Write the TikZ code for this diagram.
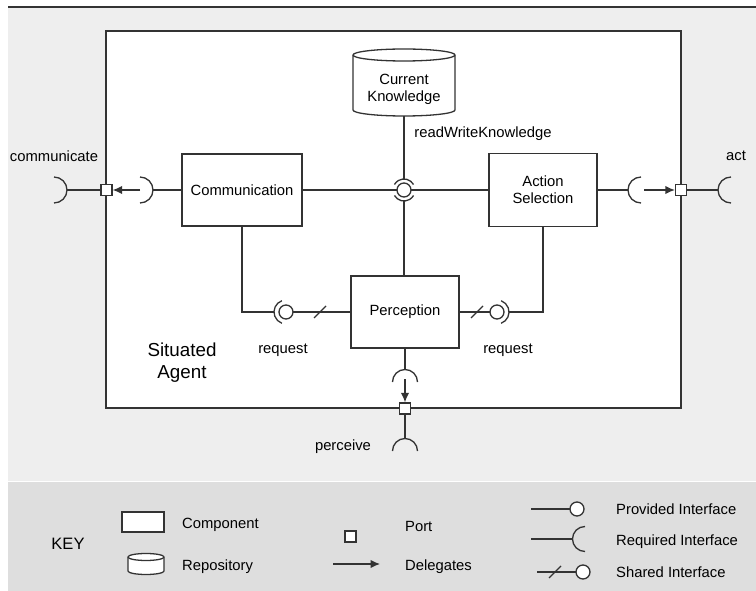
\documentclass[tikz,border=0pt]{standalone}
\usepackage{fontspec}
\setmainfont{Liberation Sans}
\usetikzlibrary{arrows.meta,calc}
\definecolor{bgtop}{HTML}{EEEEEE}
\definecolor{bgkey}{HTML}{DEDEDE}
\definecolor{ln}{HTML}{333333}
\tikzset{
 ln/.style={draw=ln, line width=1.3pt},
 txt/.style={font=\fontsize{14.8}{17}\selectfont, inner sep=0pt, text height=10.5pt, text depth=0pt},
 mtxt/.style={font=\fontsize{14.8}{17}\selectfont, inner sep=0pt, align=center},
 comp/.style={draw=ln, line width=1.3pt, fill=white, inner sep=0pt, align=center, font=\fontsize{14.8}{17}\selectfont},
 port/.style={draw=ln, line width=1.3pt, fill=white, minimum size=11pt, inner sep=0pt},
 deleg/.style={draw=ln, line width=1.3pt, -{Latex[length=9.5pt,width=8.5pt]}},
}
\begin{document}
\begin{tikzpicture}[x=1pt,y=-1pt]
\useasboundingbox (0,0) rectangle (756,591);
% backgrounds
\fill[bgtop] (8,7) rectangle (756,480.5);
\fill[bgkey] (8,482) rectangle (756,591);
\draw[draw=ln, line width=1.6pt] (8,7) -- (756,7);
\node[draw=ln, line width=1.6pt, fill=white, minimum width=575pt, minimum height=377pt, inner sep=0pt] (agent) at (393.5,219.5) {};

% repository
\draw[ln, fill=white] (353,55) -- (353,110) arc[start angle=180, end angle=360, x radius=51pt, y radius=6pt] -- (455,55) arc[start angle=0, end angle=180, x radius=51pt, y radius=6pt] -- cycle;
\draw[ln] (353,55) arc[start angle=180, end angle=360, x radius=51pt, y radius=6pt];
\node[mtxt] (ck) at (404,89.5) {Current\\Knowledge};
\coordinate (ckbot) at (404,116);

% components
\node[comp, minimum width=120pt, minimum height=72pt] (comm) at (242,190) {Communication};
\node[comp, minimum width=108pt, minimum height=73pt] (acts) at (543,190) {Action\\Selection};
\node[comp, minimum width=108pt, minimum height=72pt] (perc) at (405,312) {Perception};

% hub (readWriteKnowledge)
\coordinate (hub) at (404,190);
\draw[ln] (hub) circle[radius=7pt];
\draw[ln] ([shift={(30:11pt)}]hub) arc[start angle=30, end angle=150, radius=11pt];
\draw[ln] ([shift={(210:11pt)}]hub) arc[start angle=210, end angle=330, radius=11pt];
\draw[ln] (ckbot) -- ([yshift=11pt]hub);
\draw[ln] ([yshift=-11pt]hub) -- (hub |- perc.north);
\draw[ln] (comm.east) -- ([xshift=-7pt]hub);
\draw[ln] ([xshift=7pt]hub) -- (acts.west);
\node[txt] (rwk) at (483,132) {readWriteKnowledge};

% left port
\node[port] (pl) at (106.5,190) {};
\coordinate (sockLo) at (54,190);
\coordinate (sockLi) at (140,190);
\draw[ln] ([shift={(-90:13pt)}]sockLo) arc[start angle=-90, end angle=90, radius=13pt];
\draw[ln] ([shift={(-90:13pt)}]sockLi) arc[start angle=-90, end angle=90, radius=13pt];
\draw[ln] ([xshift=13pt]sockLo) -- (pl.west);
\draw[ln] (comm.west) -- ([xshift=13pt]sockLi);
\draw[deleg] (sockLi) -- (pl.east);
\node[txt] (lcomm) at (54,156) {communicate};

% right port
\node[port] (pr) at (681,190) {};
\coordinate (sockRi) at (641,190);
\coordinate (sockRo) at (731,190);
\draw[ln] ([shift={(90:13pt)}]sockRi) arc[start angle=90, end angle=270, radius=13pt];
\draw[ln] ([shift={(90:13pt)}]sockRo) arc[start angle=90, end angle=270, radius=13pt];
\draw[ln] (acts.east) -- ([xshift=-13pt]sockRi);
\draw[deleg] ([xshift=3pt]sockRi) -- (pr.west);
\draw[ln] (pr.east) -- ([xshift=-13pt]sockRo);
\node[txt] (lact) at (736,155) {act};

% bottom port
\node[port] (pb) at (405,408.5) {};
\coordinate (sockBi) at (405,382);
\coordinate (sockBo) at (405,451);
\draw[ln] ([shift={(0:12.5pt)}]sockBi) arc[start angle=0, end angle=180, radius=12.5pt];
\draw[ln] ([shift={(0:12.5pt)}]sockBo) arc[start angle=0, end angle=180, radius=12.5pt];
\draw[ln] (perc.south) -- ([yshift=12.5pt]sockBi);
\draw[deleg] ([yshift=3pt]sockBi) -- (pb.north);
\draw[ln] (pb.south) -- ([yshift=12.5pt]sockBo);
\node[txt] (lperc) at (343,445) {perceive};

% request interfaces
\coordinate (reqL) at (286,312);
\draw[ln] (reqL) circle[radius=7pt];
\draw[ln] ([shift={(110:12pt)}]reqL) arc[start angle=110, end angle=250, radius=12pt];
\draw[ln] (comm.south) -- (comm.south |- reqL) -- ([xshift=-12pt]reqL);
\draw[ln] ([xshift=7pt]reqL) -- (perc.west);
\draw[ln] ($(reqL)+(28,6)$) -- ($(reqL)+(40,-6)$);
\node[txt] (lreqL) at (283,348) {request};

\coordinate (reqR) at (497,312);
\draw[ln] (reqR) circle[radius=7pt];
\draw[ln] ([shift={(-70:12pt)}]reqR) arc[start angle=-70, end angle=70, radius=12pt];
\draw[ln] (perc.east) -- ([xshift=-7pt]reqR);
\draw[ln] ([xshift=12pt]reqR) -- (acts.south |- reqR) -- (acts.south);
\draw[ln] ($(reqR)+(-26,6)$) -- ($(reqR)+(-14,-6)$);
\node[txt] (lreqR) at (508,348) {request};

\node[font=\fontsize{18.8}{22}\selectfont, align=center, inner sep=0pt] (sit) at (182,363) {Situated\\Agent};

% KEY
\node[font=\fontsize{16.5}{19}\selectfont, inner sep=0pt, text height=12pt, text depth=0pt] (key) at (68,543) {KEY};
\node[draw=ln, line width=1.3pt, fill=white, minimum width=42pt, minimum height=20pt, inner sep=0pt] (kcomp) at (143,522) {};
\node[txt, anchor=west] (kcompl) at (182,523) {Component};
\draw[ln, fill=white] (128,557) -- (128,571) arc[start angle=180, end angle=360, x radius=18pt, y radius=3.5pt] -- (164,557) arc[start angle=0, end angle=180, x radius=18pt, y radius=3.5pt] -- cycle;
\draw[ln] (128,557) arc[start angle=180, end angle=360, x radius=18pt, y radius=3.5pt];
\node[txt, anchor=west] (krepl) at (182,565) {Repository};
\node[port] (kport) at (350.5,536.5) {};
\node[txt, anchor=west] (kportl) at (405,526) {Port};
\coordinate (kda) at (333,564);
\coordinate (kdb) at (380,564);
\draw[deleg] (kda) -- (kdb);
\node[txt, anchor=west] (kdel) at (405,565) {Delegates};
\coordinate (kpa) at (531,509);
\coordinate (kpb) at (577,509);
\draw[ln] (kpa) -- ([xshift=-7pt]kpb);
\draw[ln, fill=white] (kpb) circle[radius=7pt];
\node[txt, anchor=west] (kprov) at (616,509) {Provided Interface};
\coordinate (kra) at (531,539);
\coordinate (krb) at (585,539);
\draw[ln] (kra) -- ([xshift=-12.5pt]krb);
\draw[ln] ([shift={(90:12.5pt)}]krb) arc[start angle=90, end angle=270, radius=12.5pt];
\node[txt, anchor=west] (kreq) at (616,540) {Required Interface};
\coordinate (ksa) at (537,572);
\coordinate (ksb) at (583,572);
\draw[ln] (ksa) -- ([xshift=-7pt]ksb);
\draw[ln, fill=white] (ksb) circle[radius=7pt];
\draw[ln] (549,578) -- (561,566);
\node[txt, anchor=west] (kshr) at (616,572) {Shared Interface};
\end{tikzpicture}
\end{document}
